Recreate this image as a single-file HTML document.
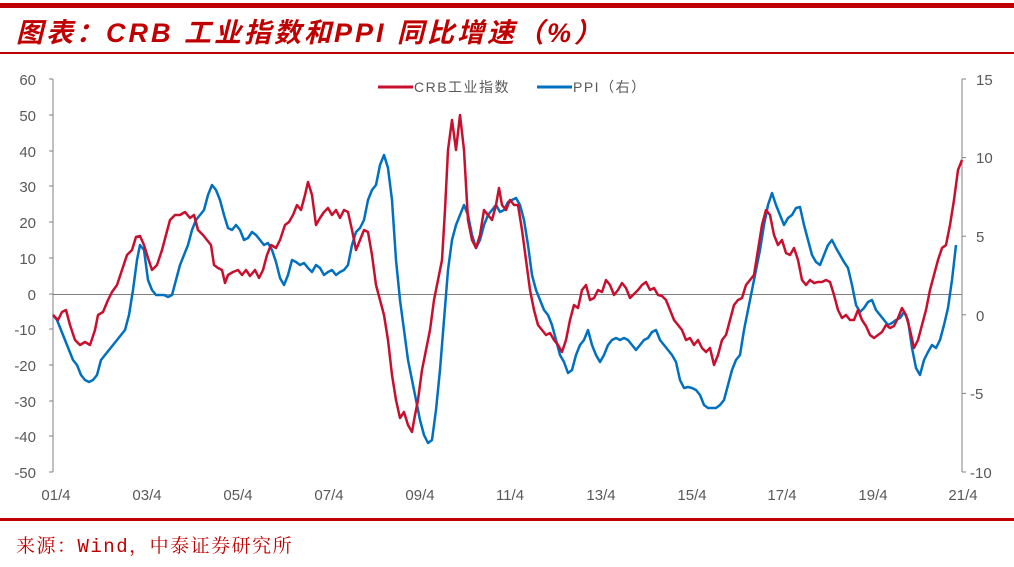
<!DOCTYPE html>
<html><head><meta charset="utf-8"><style>
body{margin:0;background:#fff;width:1014px;height:562px;overflow:hidden}
</style></head><body>
<svg width="1014" height="562" viewBox="0 0 1014 562" xmlns="http://www.w3.org/2000/svg" font-family="Liberation Sans, sans-serif">
<rect x="0" y="3" width="1014" height="5" fill="#C00000"/>
<text x="16" y="42" font-size="27" font-weight="bold" font-style="italic" fill="#C00000" letter-spacing="3" font-family="Liberation Sans, Noto Sans CJK SC, sans-serif">图表：CRB 工业指数和PPI 同比增速（%）</text>
<rect x="0" y="52" width="1014" height="2" fill="#C00000"/>
<rect x="0" y="518" width="1014" height="3" fill="#C00000"/>
<text x="16" y="552" font-size="19" fill="#C00000" letter-spacing="1.5" font-family="Liberation Mono, Noto Serif CJK SC, serif">来源：Wind，中泰证券研究所</text>
<g stroke="#808080" stroke-width="1" fill="none">
<line x1="53" y1="79" x2="53" y2="472"/>
<line x1="962" y1="79" x2="962" y2="472"/>
<line x1="53" y1="294.5" x2="962" y2="294.5"/>
<path d="M49 79H53M49 115H53M49 151H53M49 186H53M49 222H53M49 258H53M49 294H53M49 329H53M49 365H53M49 401H53M49 436H53M49 472H53"/>
<path d="M962 79H966M962 157.6H966M962 236.2H966M962 314.8H966M962 393.4H966M962 472H966"/>
</g>
<g font-size="15" fill="#595959" text-anchor="end">
<text x="36" y="85">60</text><text x="36" y="121">50</text><text x="36" y="157">40</text><text x="36" y="192">30</text><text x="36" y="228">20</text><text x="36" y="264">10</text><text x="36" y="300">0</text><text x="36" y="335">-10</text><text x="36" y="371">-20</text><text x="36" y="407">-30</text><text x="36" y="442">-40</text><text x="36" y="478">-50</text>
</g>
<g font-size="15" fill="#595959" text-anchor="start">
<text x="976" y="85">15</text><text x="976" y="163">10</text><text x="976" y="242">5</text><text x="976" y="321">0</text><text x="970" y="399">-5</text><text x="970" y="478">-10</text>
</g>
<g font-size="15" fill="#595959" text-anchor="middle">
<text x="56" y="500">01/4</text><text x="147" y="500">03/4</text><text x="238" y="500">05/4</text><text x="329" y="500">07/4</text><text x="420" y="500">09/4</text><text x="510" y="500">11/4</text><text x="601" y="500">13/4</text><text x="692" y="500">15/4</text><text x="782" y="500">17/4</text><text x="873" y="500">19/4</text><text x="963" y="500">21/4</text>
</g>
<line x1="378" y1="87" x2="413" y2="87" stroke="#C8102E" stroke-width="3"/>
<text x="414" y="92" font-size="14" fill="#595959" letter-spacing="1.5" font-family="Liberation Sans, Noto Sans CJK SC, sans-serif">CRB工业指数</text>
<line x1="537" y1="87" x2="572" y2="87" stroke="#0070C0" stroke-width="3"/>
<text x="573" y="92" font-size="14" fill="#595959" letter-spacing="1.5" font-family="Liberation Sans, Noto Sans CJK SC, sans-serif">PPI（右）</text>
<polyline fill="none" stroke="#0070C0" stroke-width="2.5" stroke-linejoin="round" points="53,315 57,320 61,330 65,340 69,350 73,360 77,365 81,375 85,380 89,382 93,380 97,375 101,360 105,355 109,350 113,345 117,340 121,335 125,330 129,315 133,290 137,260 140,245 144,250 148,280 152,290 156,295 160,295 164,295 168,297 172,295 176,280 180,265 184,255 188,245 192,230 196,220 200,215 204,210 208,195 212,185 216,190 220,200 224,215 228,228 232,230 236,225 240,230 244,240 248,238 252,232 256,235 260,240 264,245 268,243 272,250 276,262 280,278 284,285 288,275 292,260 296,262 300,265 304,263 308,268 312,272 316,265 320,268 324,275 328,272 332,270 336,275 340,272 344,270 348,265 352,245 356,232 360,228 364,220 368,200 372,190 376,185 380,165 384,155 388,168 392,200 396,260 400,300 404,330 408,360 412,380 416,400 420,420 424,435 428,443 432,440 436,410 440,370 444,320 448,270 452,240 456,225 460,215 464,205 468,215 472,235 476,248 480,240 484,225 488,215 492,210 496,205 500,212 504,210 508,202 512,200 516,198 520,205 524,220 528,245 532,275 536,290 540,300 544,310 548,315 552,325 556,340 560,355 564,362 568,373 572,370 576,355 580,345 584,340 588,330 592,345 596,355 600,362 604,355 608,345 612,340 616,338 620,340 624,338 628,340 632,345 636,350 640,345 644,340 648,338 652,332 656,330 660,340 664,345 668,350 672,355 676,362 680,380 684,388 688,387 692,388 696,390 700,395 704,405 708,408 712,408 716,408 720,405 724,400 728,385 732,370 736,360 740,355 744,330 748,310 752,290 756,270 760,250 764,225 768,205 772,193 776,205 780,215 784,225 788,218 792,215 796,208 800,207 804,225 808,240 812,255 816,262 820,265 824,255 828,245 832,240 836,248 840,255 844,262 848,268 852,285 856,305 860,312 864,308 868,302 872,300 876,310 880,315 884,320 888,325 892,323 896,320 900,318 904,312 908,320 912,348 916,368 920,375 924,360 928,352 932,345 936,348 940,340 944,325 948,308 952,280 956,245"/>
<polyline fill="none" stroke="#C8102E" stroke-width="2.5" stroke-linejoin="round" points="53,315 58,320 62,312 66,310 70,325 75,340 80,345 85,342 90,345 95,330 98,315 103,312 108,300 112,292 117,285 122,270 127,255 132,250 136,237 140,236 144,245 148,258 152,270 157,265 162,250 166,235 170,220 175,215 180,215 185,212 190,218 194,215 198,230 203,235 207,240 211,245 214,265 218,268 222,270 225,283 228,275 233,272 238,270 242,275 246,270 250,276 255,270 259,278 263,270 267,255 271,245 276,248 280,240 285,225 289,222 293,215 297,205 301,210 305,195 308,182 312,195 316,225 320,218 324,212 328,208 332,215 336,210 340,218 344,210 348,212 352,230 356,250 360,240 364,230 368,232 372,255 376,285 380,300 384,315 388,340 392,375 396,400 400,418 404,412 408,425 412,432 415,415 418,400 422,370 426,350 430,330 434,300 438,280 442,260 445,210 448,150 452,120 456,150 460,115 464,150 468,220 472,240 476,248 480,235 484,210 488,215 492,220 496,205 499,188 502,205 506,210 510,200 514,205 518,205 522,230 526,260 530,290 534,310 538,325 542,330 546,335 550,333 554,340 558,345 562,352 566,340 570,320 574,305 578,308 582,290 586,285 590,300 594,298 598,290 602,292 606,280 610,285 614,295 618,290 622,283 626,288 630,298 634,294 638,290 642,285 646,282 650,290 654,288 658,295 662,296 666,300 670,310 674,320 678,325 682,330 686,340 690,338 694,345 698,340 702,348 706,352 710,348 714,365 718,355 722,340 726,335 730,320 734,305 738,300 742,298 746,285 750,280 754,275 758,250 762,225 766,210 770,215 774,235 778,245 782,240 786,253 790,255 794,248 798,260 802,280 806,285 810,280 814,283 818,282 822,282 826,280 830,282 834,295 838,310 842,318 846,315 850,320 854,320 858,310 862,320 866,326 870,335 874,338 878,335 882,332 886,325 890,328 894,326 898,318 902,308 906,315 910,330 914,348 918,340 922,325 926,310 930,290 934,275 938,260 942,248 946,245 950,225 954,200 958,170 962,160"/>
</svg>
</body></html>
